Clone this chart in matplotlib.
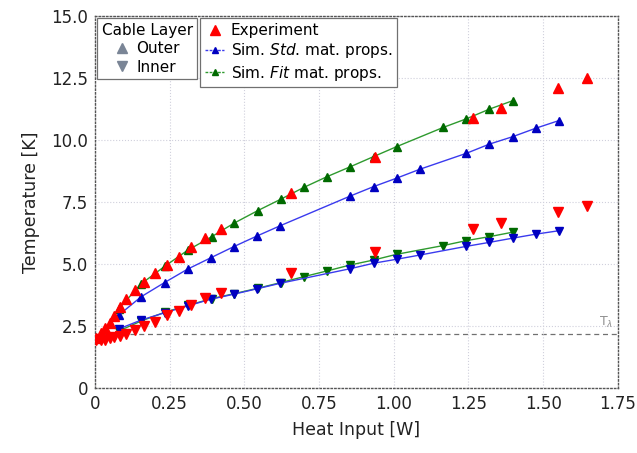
import numpy as np
import matplotlib.pyplot as plt
from matplotlib.lines import Line2D

# Experiment (same heat inputs for both cable layers)
exp_q = [0.005, 0.02, 0.035, 0.05, 0.065, 0.085, 0.105, 0.135, 0.165, 0.2,
         0.24, 0.28, 0.32, 0.368, 0.421, 0.655, 0.938, 1.266, 1.359, 1.548, 1.648]
exp_outer = [2.0, 2.2, 2.4, 2.6, 2.9, 3.25, 3.6, 3.97, 4.29, 4.63,
             4.96, 5.29, 5.67, 6.05, 6.4, 7.85, 9.33, 10.9, 11.28, 12.08, 12.49]
exp_inner = [1.92, 1.92, 1.95, 2.0, 2.04, 2.1, 2.18, 2.34, 2.5, 2.67,
             2.94, 3.12, 3.35, 3.62, 3.84, 4.62, 5.47, 6.41, 6.64, 7.11, 7.35]

# Simulation, standard material properties
std_q = [0.08, 0.155, 0.233, 0.31, 0.388, 0.465, 0.543, 0.62, 0.855,
         0.933, 1.01, 1.088, 1.243, 1.32, 1.398, 1.475, 1.553]
std_outer = [2.94, 3.68, 4.25, 4.79, 5.25, 5.7, 6.13, 6.54, 7.74,
             8.12, 8.46, 8.82, 9.46, 9.83, 10.13, 10.47, 10.78]
std_inner = [2.38, 2.74, 3.03, 3.31, 3.58, 3.78, 4.0, 4.22, 4.81,
             5.03, 5.19, 5.36, 5.71, 5.87, 6.04, 6.2, 6.34]

# Simulation, fitted material properties
fit_q = [0.08, 0.155, 0.233, 0.31, 0.391, 0.465, 0.545, 0.622, 0.7, 0.777,
         0.855, 0.933, 1.01, 1.165, 1.243, 1.32, 1.398]
fit_outer = [3.2, 4.2, 4.9, 5.55, 6.1, 6.64, 7.15, 7.61, 8.09, 8.52,
             8.92, 9.33, 9.73, 10.5, 10.85, 11.24, 11.58]
fit_inner = [2.3, 2.7, 3.05, 3.33, 3.6, 3.8, 4.02, 4.25, 4.49, 4.72,
             4.96, 5.16, 5.39, 5.74, 5.94, 6.1, 6.28]

T_lambda = 2.17

RED = '#ff0000'
BLUE_M, BLUE_L = '#0000c0', '#3a3aee'
GREEN_M, GREEN_L = '#006a00', '#2e9a2e'

fig = plt.figure(figsize=(6.37, 4.53), dpi=100)
ax = fig.add_axes([0.149, 0.1435, 0.821, 0.8215])

ax.axhline(T_lambda, color='#707070', ls=(0, (4, 3)), lw=0.9, zorder=1)
ax.text(1.735, T_lambda + 0.15, r'T$_\lambda$', color='#909090', fontsize=9,
        ha='right', va='bottom')

# Simulations
for q, t, mk in [(fit_q, fit_outer, '^'), (fit_q, fit_inner, 'v')]:
    ax.plot(q, t, color=GREEN_L, lw=1.0, marker=mk, ms=5.5,
            mfc=GREEN_M, mec=GREEN_M, zorder=2)
for q, t, mk in [(std_q, std_outer, '^'), (std_q, std_inner, 'v')]:
    ax.plot(q, t, color=BLUE_L, lw=1.0, marker=mk, ms=5.5,
            mfc=BLUE_M, mec=BLUE_M, zorder=3)

# Experiment
ax.plot(exp_q, exp_outer, ls='none', marker='^', ms=7.5, color=RED, zorder=4)
ax.plot(exp_q, exp_inner, ls='none', marker='v', ms=7.5, color=RED, zorder=4)

ax.set_xlim(0, 1.75)
ax.set_ylim(0, 15)
ax.set_xticks(np.arange(0, 1.76, 0.25))
ax.set_xticklabels(['0', '0.25', '0.50', '0.75', '1.00', '1.25', '1.50', '1.75'])
ax.set_yticks(np.arange(0, 15.1, 2.5))
ax.set_yticklabels(['0', '2.5', '5.0', '7.5', '10.0', '12.5', '15.0'])
ax.tick_params(length=0, labelsize=12, pad=5, colors='#222222')
ax.grid(True, ls=':', color='#d0d0dc', lw=0.8)
for s in ax.spines.values():
    s.set_linestyle(':')
    s.set_color('#555555')
    s.set_linewidth(1.0)
ax.set_xlabel('Heat Input [W]', fontsize=12.5, color='#222222', labelpad=6)
ax.set_ylabel('Temperature [K]', fontsize=12.5, color='#222222', labelpad=8)

layer_handles = [
    Line2D([], [], ls='none', marker='^', ms=7, color='#7a8596'),
    Line2D([], [], ls='none', marker='v', ms=7, color='#7a8596'),
]
leg1 = ax.legend(layer_handles, ['Outer', 'Inner'], title='Cable Layer',
                 loc='upper left', bbox_to_anchor=(0.004, 0.993),
                 fontsize=11, title_fontsize=11, fancybox=False,
                 edgecolor='#707070', framealpha=1, handlelength=1.0,
                 handletextpad=0.4, borderpad=0.3, labelspacing=0.22,
                 borderaxespad=0)
leg1.get_frame().set_linewidth(0.9)
ax.add_artist(leg1)

src_handles = [
    Line2D([], [], ls='none', marker='^', ms=7, color=RED),
    Line2D([], [], color=BLUE_L, lw=1.0, ls=(0, (2, 1)), marker='^', ms=5,
           mfc=BLUE_M, mec=BLUE_M),
    Line2D([], [], color=GREEN_L, lw=1.0, ls=(0, (2, 1)), marker='^', ms=5,
           mfc=GREEN_M, mec=GREEN_M),
]
leg2 = ax.legend(src_handles, ['Experiment', r'Sim. $\it{Std}$. mat. props.',
                               r'Sim. $\it{Fit}$ mat. props.'],
                 loc='upper left', bbox_to_anchor=(0.201, 0.993),
                 fontsize=11, fancybox=False, edgecolor='#707070',
                 framealpha=1, handlelength=1.3, handletextpad=0.4,
                 borderpad=0.3, labelspacing=0.22, borderaxespad=0)
leg2.get_frame().set_linewidth(0.9)

fig.savefig('out.png', dpi=100)
